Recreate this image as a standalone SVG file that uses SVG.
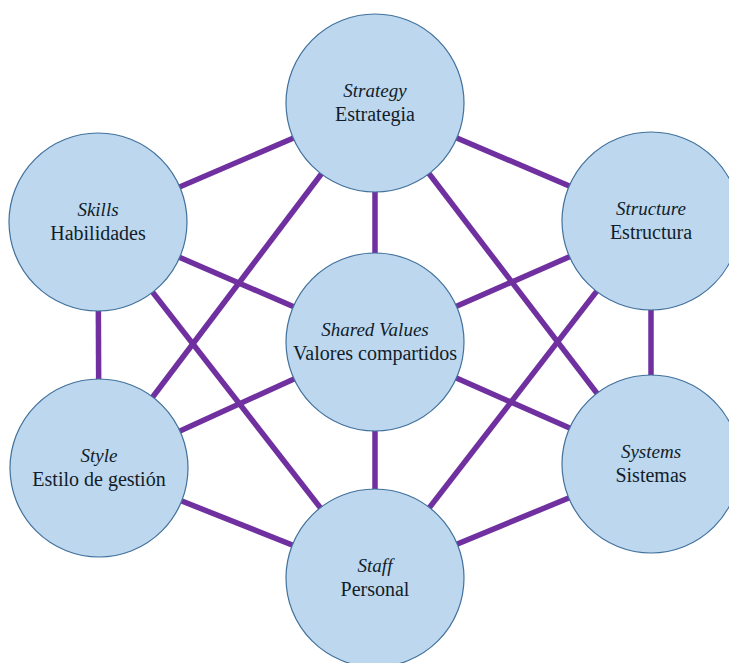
<svg xmlns="http://www.w3.org/2000/svg" width="729" height="663" viewBox="0 0 729 663">
<style>
.bg{fill:#ffffff}
.edge{stroke:#7030A0;stroke-width:5.5;fill:none}
.node{fill:#BDD7EE;stroke:#41719C;stroke-width:1.2}
.t{font-family:"Liberation Serif","Times New Roman",serif;font-size:20px;fill:#111d2b;text-anchor:middle}
.i{font-style:italic;font-size:19px}
</style>
<rect class="bg" x="0" y="0" width="729" height="663"/>
<g id="connectors">
<line class="edge" x1="375" y1="103" x2="98" y2="222"/>
<line class="edge" x1="375" y1="103" x2="651" y2="221"/>
<line class="edge" x1="375" y1="103" x2="375" y2="342"/>
<line class="edge" x1="375" y1="103" x2="99" y2="468"/>
<line class="edge" x1="375" y1="103" x2="651" y2="464"/>
<line class="edge" x1="98" y1="222" x2="375" y2="342"/>
<line class="edge" x1="98" y1="222" x2="99" y2="468"/>
<line class="edge" x1="98" y1="222" x2="375" y2="578"/>
<line class="edge" x1="651" y1="221" x2="375" y2="342"/>
<line class="edge" x1="651" y1="221" x2="651" y2="464"/>
<line class="edge" x1="651" y1="221" x2="375" y2="578"/>
<line class="edge" x1="375" y1="342" x2="99" y2="468"/>
<line class="edge" x1="375" y1="342" x2="651" y2="464"/>
<line class="edge" x1="375" y1="342" x2="375" y2="578"/>
<line class="edge" x1="99" y1="468" x2="375" y2="578"/>
<line class="edge" x1="651" y1="464" x2="375" y2="578"/>
</g>
<g id="strategy">
<circle class="node" cx="375" cy="103" r="89"/>
<text class="t i" x="375" y="97">Strategy</text>
<text class="t" x="375" y="121">Estrategia</text>
</g>
<g id="skills">
<circle class="node" cx="98" cy="222" r="89"/>
<text class="t i" x="98" y="216">Skills</text>
<text class="t" x="98" y="240">Habilidades</text>
</g>
<g id="structure">
<circle class="node" cx="651" cy="221" r="89"/>
<text class="t i" x="651" y="215">Structure</text>
<text class="t" x="651" y="239">Estructura</text>
</g>
<g id="shared-values">
<circle class="node" cx="375" cy="342" r="89"/>
<text class="t i" x="375" y="336">Shared Values</text>
<text class="t" x="375" y="360">Valores compartidos</text>
</g>
<g id="style">
<circle class="node" cx="99" cy="468" r="89"/>
<text class="t i" x="99" y="462">Style</text>
<text class="t" x="99" y="486">Estilo de gestión</text>
</g>
<g id="systems">
<circle class="node" cx="651" cy="464" r="89"/>
<text class="t i" x="651" y="458">Systems</text>
<text class="t" x="651" y="482">Sistemas</text>
</g>
<g id="staff">
<circle class="node" cx="375" cy="578" r="89"/>
<text class="t i" x="375" y="572">Staff</text>
<text class="t" x="375" y="596">Personal</text>
</g>
</svg>
